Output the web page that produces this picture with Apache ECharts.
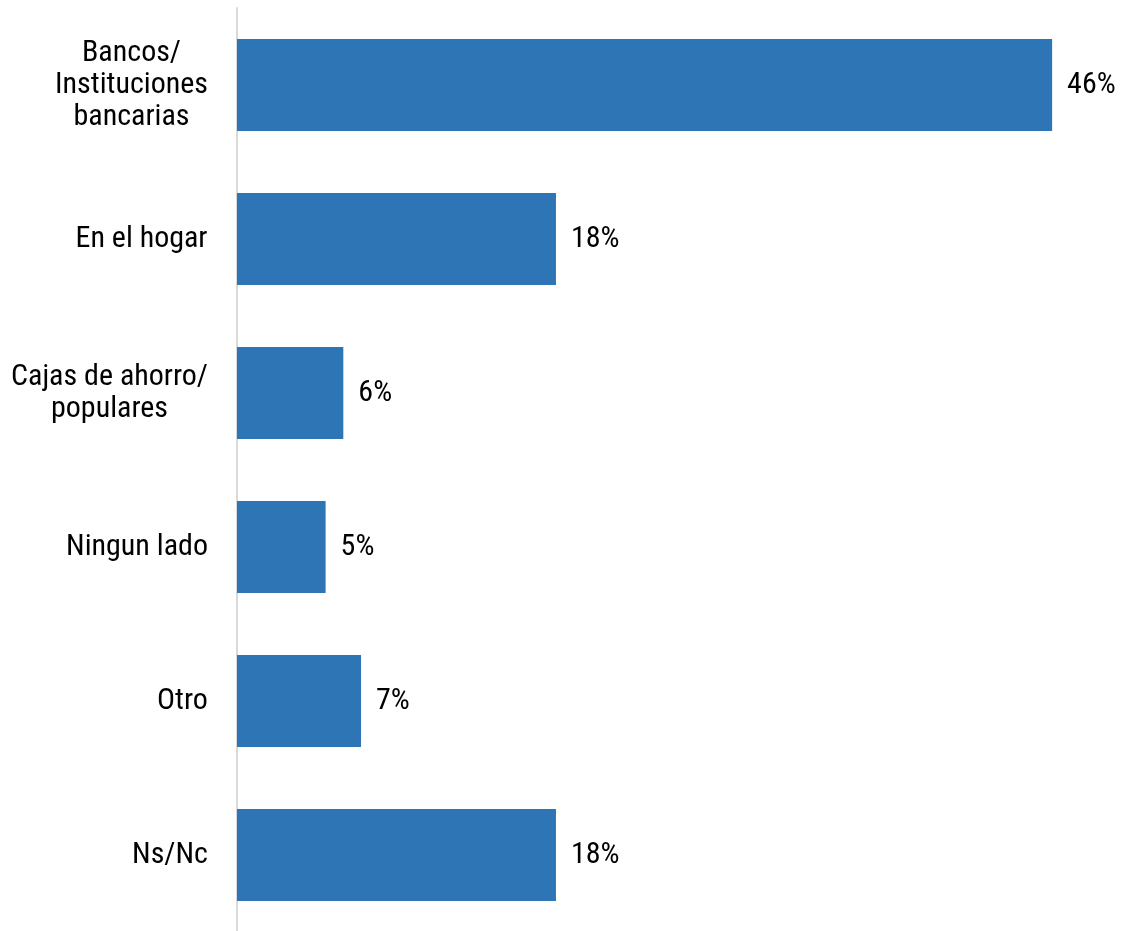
<!DOCTYPE html>
<html>
<head>
<meta charset="utf-8">
<script src="https://cdn.jsdelivr.net/npm/echarts@6/dist/echarts.min.js"></script>
<style>
  html, body { margin: 0; padding: 0; background: #fff; }
  #chart { width: 1127px; height: 931px; }
</style>
</head>
<body>
<div id="chart"></div>
<script>
  // categorias, de arriba hacia abajo
  var categories = ['Bancos/\nInstituciones\nbancarias', 'En el hogar', 'Cajas de ahorro/\npopulares', 'Ningun lado', 'Otro', 'Ns/Nc'];
  var values = [46, 18, 6, 5, 7, 18];

  var fontFamily = 'Roboto';
  var fontStyle = 'condensed';
  var fontSize = 30;

  // ancho de la linea mas larga, para alinear a la derecha y centrar las lineas
  var ctx = document.createElement('canvas').getContext('2d');
  ctx.font = fontStyle + ' normal ' + fontSize + 'px ' + fontFamily;
  function widest(text) {
    var w = 0;
    text.split('\n').forEach(function (line) {
      w = Math.max(w, ctx.measureText(line).width);
    });
    return Math.ceil(w);
  }

  var chart = echarts.init(document.getElementById('chart'));
  var option = {
    animation: false,
    grid: {
      left: 237,
      right: 4,
      top: 8,
      bottom: -1,
      containLabel: false,
      outerBoundsMode: 'none'
    },
    xAxis: {
      type: 'value',
      min: 0,
      max: 50,
      show: false
    },
    yAxis: {
      type: 'category',
      data: categories.map(function (c) {
        return { value: c, textStyle: { align: 'center', padding: [0, widest(c), 0, 0] } };
      }),
      inverse: true,
      axisLine: {
        show: true,
        lineStyle: { color: '#d9d9d9', width: 2 }
      },
      axisTick: { show: false },
      axisLabel: {
        margin: 29,
        color: '#000',
        fontFamily: fontFamily,
        fontStyle: fontStyle,
        fontSize: fontSize,
        lineHeight: 32,
        align: 'center'
      }
    },
    series: [{
      type: 'bar',
      data: values,
      barWidth: 92,
      itemStyle: { color: '#2E75B6' },
      label: {
        show: true,
        position: 'right',
        distance: 15,
        color: '#000',
        fontFamily: fontFamily,
        fontStyle: fontStyle,
        fontSize: fontSize,
        formatter: '{c}%'
      }
    }]
  };
  chart.setOption(option);
</script>
</body>
</html>
